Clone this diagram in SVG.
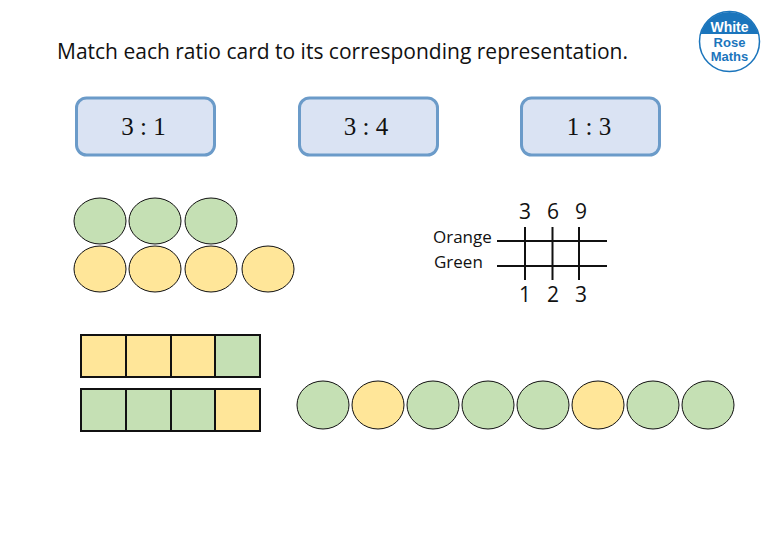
<svg xmlns="http://www.w3.org/2000/svg" width="780" height="540" viewBox="0 0 780 540">
<style>
text{font-family:"Open Sans","Noto Sans","DejaVu Sans",sans-serif;fill:#111}
.card rect{fill:#dae3f3;stroke:#6b9bc9;stroke-width:3}
.card text{font-family:"Liberation Serif",serif;font-size:25px;text-anchor:middle}
.g{fill:#c5e0b4;stroke:#111;stroke-width:1}
.o{fill:#ffe699;stroke:#111;stroke-width:1}
.l{stroke:#111;stroke-width:2;fill:none}
.n{font-size:21px;text-anchor:middle}
.lab{font-size:17px}
#logo text{font-family:"Liberation Sans",Arial,sans-serif;font-weight:700;text-anchor:middle}
</style>
<rect width="780" height="540" fill="#fff"/>
<text id="title" x="57" y="59" font-size="21">Match each ratio card to its corresponding representation.</text>
<g id="logo">
<circle cx="729.500" cy="41.500" r="30" fill="#fff" stroke="#1b75bc" stroke-width="1.500"/>
<path d="M700.600 34A30 30 0 0 1 758.400 34Z" fill="#1b75bc"/>
<text x="729.500" y="32" font-size="14" style="fill:#fff">White</text>
<text x="729.500" y="47" font-size="13" style="fill:#1b75bc">Rose</text>
<text x="729.500" y="61" font-size="13" style="fill:#1b75bc">Maths</text>
</g>
<g id="card1" class="card"><rect x="76.500" y="98" width="138" height="57" rx="10"/><text x="143.500" y="135">3 : 1</text></g>
<g id="card2" class="card"><rect x="299.500" y="98" width="138" height="57" rx="10"/><text x="366" y="135">3 : 4</text></g>
<g id="card3" class="card"><rect x="521.500" y="98" width="138" height="57" rx="10"/><text x="589" y="135">1 : 3</text></g>
<g id="circles-top">
<ellipse class="g" cx="100" cy="221" rx="26" ry="23"/>
<ellipse class="g" cx="155" cy="221" rx="26" ry="23"/>
<ellipse class="g" cx="211" cy="221" rx="26" ry="23"/>
<ellipse class="o" cx="100" cy="269" rx="26" ry="23"/>
<ellipse class="o" cx="155" cy="269" rx="26" ry="23"/>
<ellipse class="o" cx="211" cy="269" rx="26" ry="23"/>
<ellipse class="o" cx="268" cy="269" rx="26" ry="23"/>
</g>
<g id="ratio-table">
<text class="lab" x="433" y="243">Orange</text>
<text class="lab" x="434" y="268">Green</text>
<text class="n" x="525" y="219">3</text><text class="n" x="553" y="219">6</text><text class="n" x="581" y="219">9</text>
<text class="n" x="525" y="302">1</text><text class="n" x="553" y="302">2</text><text class="n" x="581" y="302">3</text>
<path class="l" d="M497 241H607M497 266H607M525 227V280M552.500 227V280M579 227V280"/>
</g>
<g id="bar-top">
<rect class="o" x="81" y="335" width="45" height="42"/><rect class="o" x="126" y="335" width="45" height="42"/><rect class="o" x="171" y="335" width="44" height="42"/><rect class="g" x="215" y="335" width="45" height="42"/>
<path class="l" d="M81 335H260V377H81ZM126 335V377M171 335V377M215 335V377"/>
</g>
<g id="bar-bottom">
<rect class="g" x="81" y="389" width="45" height="42"/><rect class="g" x="126" y="389" width="45" height="42"/><rect class="g" x="171" y="389" width="44" height="42"/><rect class="o" x="215" y="389" width="45" height="42"/>
<path class="l" d="M81 389H260V431H81ZM126 389V431M171 389V431M215 389V431"/>
</g>
<g id="circles-row">
<ellipse class="g" cx="323" cy="405" rx="26" ry="24"/>
<ellipse class="o" cx="378" cy="405" rx="26" ry="24"/>
<ellipse class="g" cx="433" cy="405" rx="26" ry="24"/>
<ellipse class="g" cx="488" cy="405" rx="26" ry="24"/>
<ellipse class="g" cx="543" cy="405" rx="26" ry="24"/>
<ellipse class="o" cx="598" cy="405" rx="26" ry="24"/>
<ellipse class="g" cx="653" cy="405" rx="26" ry="24"/>
<ellipse class="g" cx="708" cy="405" rx="26" ry="24"/>
</g>
</svg>
